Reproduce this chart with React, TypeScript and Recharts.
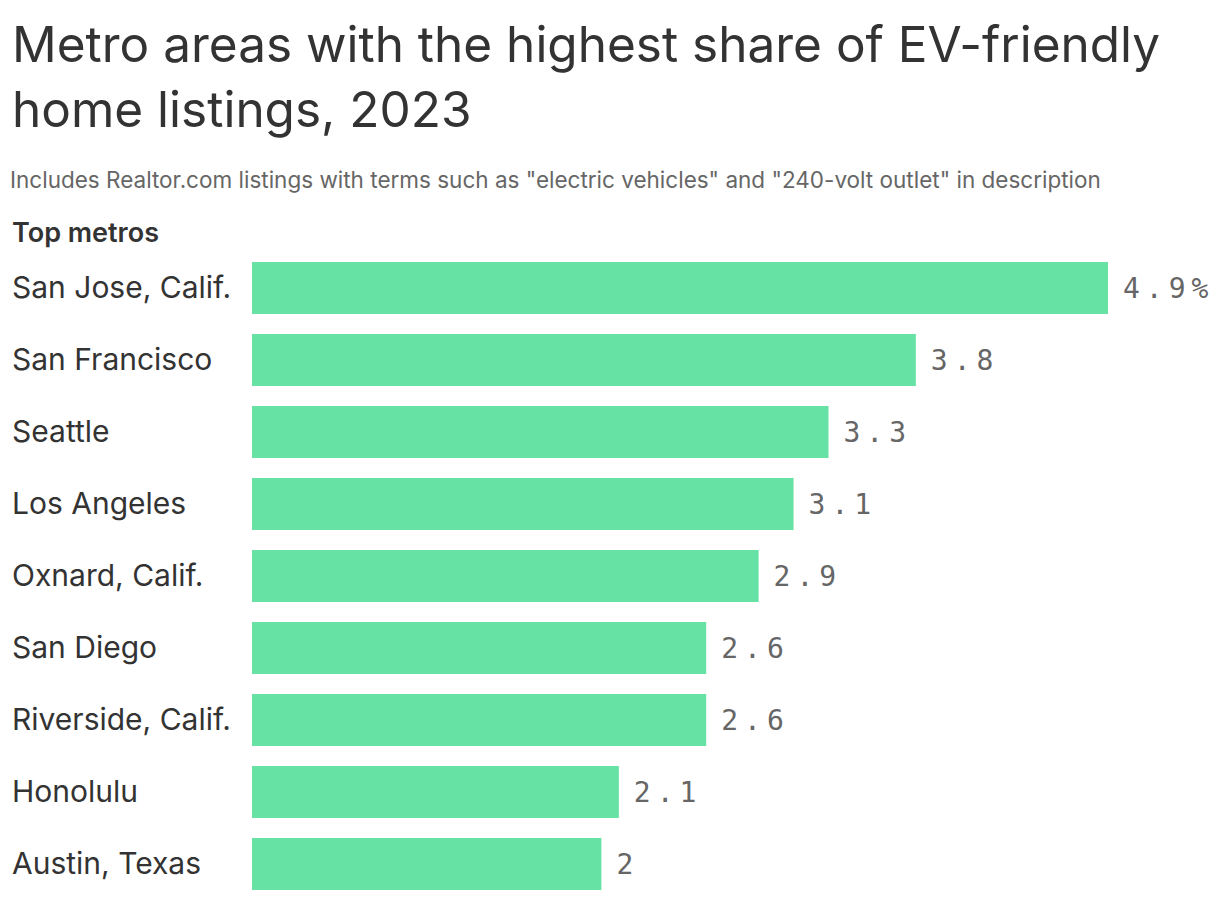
import { BarChart, Bar, XAxis, YAxis, LabelList } from 'recharts';

const metros = [
  'San Jose, Calif.',
  'San Francisco',
  'Seattle',
  'Los Angeles',
  'Oxnard, Calif.',
  'San Diego',
  'Riverside, Calif.',
  'Honolulu',
  'Austin, Texas',
];

const shares = [4.9, 3.8, 3.3, 3.1, 2.9, 2.6, 2.6, 2.1, 2];

const data = metros.map((metro, i) => ({ metro, share: shares[i] }));

const FONT = 'Inter, "Noto Sans", sans-serif';
const MONO = '"DejaVu Sans Mono", "Liberation Mono", monospace';

// category names drawn flush left
const MetroTick = ({ y, payload }: any) => (
  <text x={12} y={y} dy={10} textAnchor="start" fill="#333" fontSize={30} fontFamily={FONT}>
    {payload.value}
  </text>
);

const ValueLabel = ({ x, y, width, height, value, index }: any) => (
  <text
    x={x + width + 15}
    y={y + height / 2}
    dy={10}
    fill="#666"
    fontSize={28}
    fontFamily={MONO}
    style={{ letterSpacing: 6 }}
  >
    {index === 0 ? `${value}%` : value}
  </text>
);

export default function App() {
  return (
    <div style={{ position: 'absolute', left: 0, top: 0, width: 1220, height: 900, background: '#fff', fontFamily: FONT }}>
      <div style={{ position: 'absolute', left: 12, top: 12, width: 1200, fontSize: 49.5, lineHeight: '65px', color: '#333' }}>
        Metro areas with the highest share of EV-friendly home listings, 2023
      </div>
      <div style={{ position: 'absolute', left: 10, top: 166, fontSize: 22.5, color: '#666', whiteSpace: 'nowrap' }}>
        Includes Realtor.com listings with terms such as "electric vehicles" and "240-volt outlet" in description
      </div>
      <div style={{ position: 'absolute', left: 12, top: 216, fontSize: 27, fontWeight: 600, color: '#333' }}>
        Top metros
      </div>
      <div style={{ position: 'absolute', left: 0, top: 252 }}>
        <BarChart
          width={1220}
          height={648}
          data={data}
          layout="vertical"
          margin={{ top: 0, right: 112, bottom: 0, left: 0 }}
          barCategoryGap={10}
        >
          <XAxis type="number" domain={[0, 4.9]} hide />
          <YAxis
            type="category"
            dataKey="metro"
            width={252}
            axisLine={false}
            tickLine={false}
            tick={<MetroTick />}
            interval={0}
          />
          <Bar dataKey="share" fill="#66E2A4" isAnimationActive={false}>
            <LabelList dataKey="share" content={<ValueLabel />} />
          </Bar>
        </BarChart>
      </div>
    </div>
  );
}
